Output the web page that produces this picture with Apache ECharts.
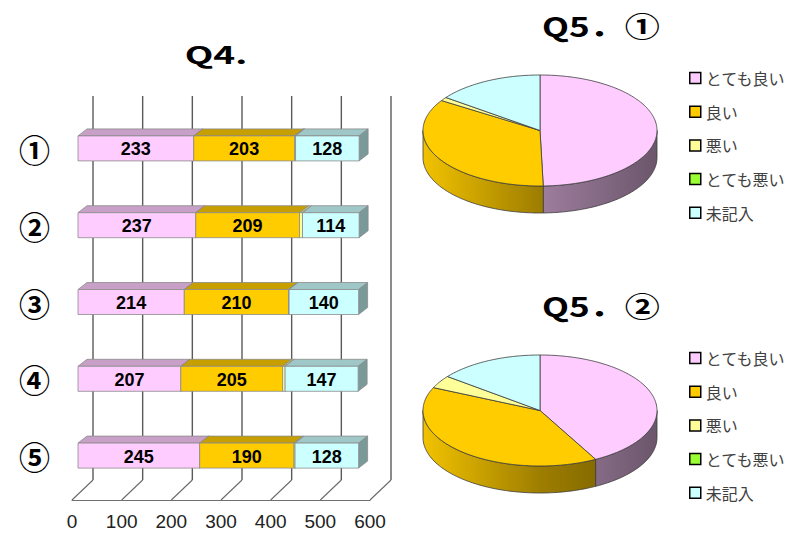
<!DOCTYPE html>
<html>
<head>
<meta charset="utf-8">
<script src="https://cdn.jsdelivr.net/npm/echarts@6/dist/echarts.min.js"></script>
<style>
  html, body { margin: 0; padding: 0; background: #fff; }
  #chart { width: 805px; height: 533px; }
</style>
</head>
<body>
<div id="chart"></div>
<script>
// Response categories shared by all three charts
const responseNames = ['とても良い', '良い', '悪い', 'とても悪い', '未記入'];
const responseColors = ['#ffccff', '#ffcc00', '#ffff99', '#99ff33', '#ccffff'];

// Q4: five sub-questions, stacked counts per response
const q4Items = ['①', '②', '③', '④', '⑤'];
const q4VeryGood = [233, 237, 214, 207, 245];
const q4Good = [203, 209, 210, 205, 190];
const q4Bad = [2, 6, 1, 5, 2];
const q4VeryBad = [0, 0, 0, 0, 0];
const q4Blank = [128, 114, 140, 147, 128];
const xTicks = [0, 100, 200, 300, 400, 500, 600];

// Q5 ① / ② : counts per response (pie)
const q5Part1 = [280, 195, 6, 0, 84];
const q5Part2 = [238, 224, 21, 0, 82];

const FONT_JP = '"Noto Sans CJK JP", "Noto Sans", sans-serif';

function shade(hex, k) {
  const n = parseInt(hex.slice(1), 16);
  const r = Math.round(((n >> 16) & 255) * k);
  const g = Math.round(((n >> 8) & 255) * k);
  const b = Math.round((n & 255) * k);
  return 'rgb(' + r + ',' + g + ',' + b + ')';
}

// 3D geometry of the bar chart
const FLOOR_OFF = 6;                 // floor front edge sits below the plot bottom
const WALL_DX = 21, WALL_DY = -20;   // back wall offset from the floor front edge
const BAR_DX = 6;                    // bar front face offset from the floor scale
const TOP_DX = 9, TOP_DY = -7;       // bar depth
const BAR_H = 25;

function renderBar(params, api, s) {
  const v = api.value(3);
  if (!(v > 0)) return null;
  const cat = api.value(2);
  const p0 = api.coord([api.value(0), cat]);
  const p1 = api.coord([api.value(1), cat]);
  const x0 = p0[0] + BAR_DX, x1 = p1[0] + BAR_DX;
  const yc = p0[1];
  const yt = yc - BAR_H / 2, yb = yc + BAR_H / 2;
  const base = responseColors[s];
  const edge = { stroke: '#8c8c8c', lineWidth: 0.8 };
  const children = [
    { type: 'polygon', shape: { points: [[x0, yt], [x1, yt], [x1 + TOP_DX, yt + TOP_DY], [x0 + TOP_DX, yt + TOP_DY]] },
      style: Object.assign({ fill: shade(base, 0.78) }, edge) },
    { type: 'polygon', shape: { points: [[x1, yt], [x1 + TOP_DX, yt + TOP_DY], [x1 + TOP_DX, yb + TOP_DY], [x1, yb]] },
      style: Object.assign({ fill: shade(base, 0.6) }, edge) },
    { type: 'rect', shape: { x: x0, y: yt, width: x1 - x0, height: BAR_H },
      style: Object.assign({ fill: base }, edge) }
  ];
  if (v >= 20) {
    children.push({
      type: 'text',
      style: { text: String(v), x: (x0 + x1) / 2, y: yc + 1, align: 'center', verticalAlign: 'middle',
               fontSize: 18, fontWeight: 'bold', fontFamily: '"Liberation Sans", Arial, sans-serif', fill: '#000' }
    });
  }
  return { type: 'group', children: children };
}

// stacked segments [start, end, itemIndex, value]
const q4Values = [q4VeryGood, q4Good, q4Bad, q4VeryBad, q4Blank];
const stackBase = q4Items.map(() => 0);
const barSeries = q4Values.map((vals, s) => {
  const data = vals.map((v, i) => {
    const a = stackBase[i];
    stackBase[i] += v;
    return [a, a + v, i, v];
  });
  return {
    type: 'custom',
    name: responseNames[s],
    coordinateSystem: 'cartesian2d',
    color: responseColors[s],
    itemStyle: { color: responseColors[s] },
    encode: { x: [0, 1], y: 2 },
    clip: false,
    z: 3,
    data: data,
    renderItem: (params, api) => renderBar(params, api, s)
  };
});

// back wall grid lines and floor ticks
const wallSeries = {
  type: 'custom',
  coordinateSystem: 'cartesian2d',
  silent: true,
  clip: false,
  z: 1,
  encode: { x: 0, y: 1 },
  data: xTicks.map(v => [v, 0]),
  renderItem(params, api) {
    const cs = params.coordSys;
    const x = api.coord([api.value(0), 0])[0];
    const floor = cs.y + cs.height + FLOOR_OFF;
    const wallTop = cs.y + FLOOR_OFF + WALL_DY;
    return {
      type: 'group',
      children: [
        { type: 'line', shape: { x1: x + WALL_DX, y1: wallTop, x2: x + WALL_DX, y2: floor + WALL_DY },
          style: { stroke: '#5a5a5a', lineWidth: 1.4 } },
        { type: 'line', shape: { x1: x + WALL_DX, y1: floor + WALL_DY, x2: x, y2: floor },
          style: { stroke: '#6a6a6a', lineWidth: 1.1 } }
      ]
    };
  }
};

// 3D pie drawn on an ellipse
const PIE_RX = 117, PIE_RY = 55.5, PIE_DEPTH = 27;

function piePoint(cx, cy, t, dy) {
  return [cx + PIE_RX * Math.sin(t), cy - PIE_RY * Math.cos(t) + (dy || 0)];
}

function pieSeries(name, values, cx, cy) {
  const total = values.reduce((a, b) => a + b, 0);
  let acc = 0;
  const data = values.map((v, i) => { const d = [v, acc, i]; acc += v; return d; });
  return {
    type: 'custom',
    name: name,
    coordinateSystem: 'none',
    silent: true,
    z: 2,
    data: data,
    renderItem(params, api) {
      const v = api.value(0);
      if (!(v > 0)) return null;
      const i = api.value(2);
      const a0 = api.value(1) / total * Math.PI * 2;
      const a1 = (api.value(1) + v) / total * Math.PI * 2;
      const base = responseColors[i];
      const edge = { stroke: '#3c3c3c', lineWidth: 0.8 };
      const children = [];
      // side wall on the front half
      const s0 = Math.max(a0, Math.PI / 2), s1 = Math.min(a1, Math.PI * 1.5);
      if (s1 > s0) {
        const topArc = [], bottomArc = [];
        const n = Math.max(2, Math.ceil((s1 - s0) / 0.02));
        for (let k = 0; k <= n; k++) {
          const t = s0 + (s1 - s0) * k / n;
          topArc.push(piePoint(cx, cy, t, 0));
          bottomArc.push(piePoint(cx, cy, t, PIE_DEPTH));
        }
        const grad = new echarts.graphic.LinearGradient(cx - PIE_RX, 0, cx + PIE_RX, 0, [
          { offset: 0, color: shade(base, 0.95) },
          { offset: 0.5, color: shade(base, 0.62) },
          { offset: 1, color: shade(base, 0.42) }
        ], true);
        children.push({ type: 'polygon', shape: { points: topArc.concat(bottomArc.reverse()) },
                        style: Object.assign({ fill: grad }, edge) });
      }
      // top face
      const pts = [[cx, cy]];
      const n = Math.max(2, Math.ceil((a1 - a0) / 0.02));
      for (let k = 0; k <= n; k++) pts.push(piePoint(cx, cy, a0 + (a1 - a0) * k / n, 0));
      children.push({ type: 'polygon', shape: { points: pts }, style: Object.assign({ fill: base }, edge) });
      return { type: 'group', children: children };
    }
  };
}

function legendAt(top) {
  return {
    data: responseNames,
    orient: 'vertical',
    left: 689,
    top: top,
    padding: 0,
    icon: 'rect',
    itemWidth: 11,
    itemHeight: 11,
    itemGap: 17.7,
    itemTextGap: 3,
    selectedMode: false,
    itemStyle: { borderColor: '#000', borderWidth: 1.5 },
    textStyle: { fontSize: 16, lineHeight: 16, color: '#404040', fontFamily: FONT_JP }
  };
}

const chart = echarts.init(document.getElementById('chart'), null, { renderer: 'svg' });
chart.setOption({
  animation: false,
  backgroundColor: '#fff',
  grid: { left: 72, top: 110, width: 298, height: 384, containLabel: false, outerBoundsMode: 'none' },
  xAxis: {
    type: 'value', min: 0, max: 600, interval: 100, offset: FLOOR_OFF,
    axisLine: { show: true, lineStyle: { color: '#707070', width: 1 } },
    axisTick: { show: false },
    splitLine: { show: false },
    axisLabel: { fontSize: 19, color: '#222', margin: 12, fontFamily: '"Liberation Sans", Arial, sans-serif' }
  },
  yAxis: {
    type: 'category', data: q4Items, inverse: true,
    axisLine: { show: false }, axisTick: { show: false }, splitLine: { show: false },
    axisLabel: { fontSize: 31, fontWeight: 'bold', color: '#000', margin: 22, fontFamily: FONT_JP }
  },
  legend: [legendAt(70), legendAt(350)],
  graphic: [
    { type: 'text', x: 216, y: 54, scaleX: 1.55, silent: true,
      style: { text: 'Q4.', align: 'center', verticalAlign: 'middle', textAlign: 'center', textVerticalAlign: 'middle',
               fontSize: 24, fontWeight: 'bold', fontFamily: FONT_JP, fill: '#000' } },
    { type: 'text', x: 601, y: 25, scaleX: 1.3, silent: true,
      style: { text: 'Q5．①', align: 'center', verticalAlign: 'middle', textAlign: 'center', textVerticalAlign: 'middle',
               fontSize: 27, fontWeight: 'bold', fontFamily: FONT_JP, fill: '#000' } },
    { type: 'text', x: 601, y: 305, scaleX: 1.3, silent: true,
      style: { text: 'Q5．②', align: 'center', verticalAlign: 'middle', textAlign: 'center', textVerticalAlign: 'middle',
               fontSize: 27, fontWeight: 'bold', fontFamily: FONT_JP, fill: '#000' } }
  ],
  series: [wallSeries].concat(barSeries, [
    pieSeries('Q5①', q5Part1, 540, 130.5),
    pieSeries('Q5②', q5Part2, 540, 410.5)
  ])
});
</script>
</body>
</html>
